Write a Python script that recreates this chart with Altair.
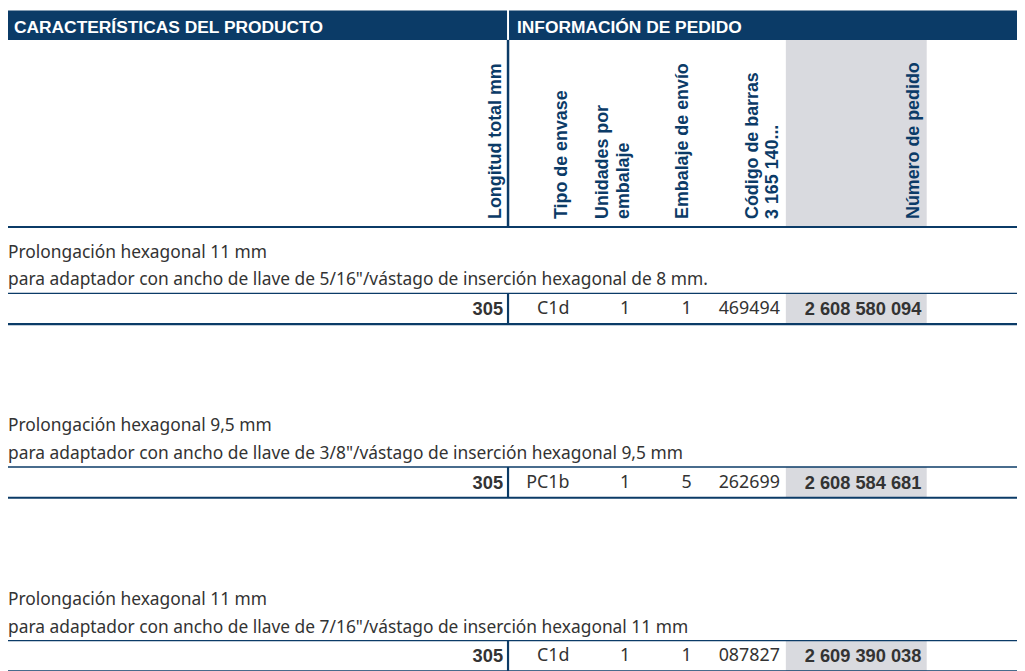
import altair as alt
import pandas as pd

# ---------------- data ----------------
GROUP_HEADERS = ["CARACTERÍSTICAS DEL PRODUCTO", "INFORMACIÓN DE PEDIDO"]
COLUMN_KEYS = ["longitud", "tipo", "unidades", "embalaje", "codigo", "pedido"]
COLUMN_HEADERS = [
    ["Longitud total mm"],
    ["Tipo de envase"],
    ["Unidades por", "embalaje"],
    ["Embalaje de envío"],
    ["Código de barras", "3 165 140..."],
    ["Número de pedido"],
]
SECTION_TITLES = [
    "Prolongación hexagonal 11 mm",
    "Prolongación hexagonal 9,5 mm",
    "Prolongación hexagonal 11 mm",
]
SECTION_SUBTITLES = [
    'para adaptador con ancho de llave de 5/16"/vástago de inserción hexagonal de 8 mm.',
    'para adaptador con ancho de llave de 3/8"/vástago de inserción hexagonal 9,5 mm',
    'para adaptador con ancho de llave de 7/16"/vástago de inserción hexagonal 11 mm',
]
LONGITUD = ["305", "305", "305"]
TIPO = ["C1d", "PC1b", "C1d"]
UNIDADES = ["1", "1", "1"]
EMBALAJE = ["1", "5", "1"]
CODIGO = ["469494", "262699", "087827"]
PEDIDO = ["2 608 580 094", "2 608 584 681", "2 609 390 038"]

# ---------------- layout / style ----------------
NAVY = "#0b3b67"
GREY = "#d9dadf"
TEXT = "#333333"
BODY_FONT = "Noto Sans"
BOLD_FONT = "Liberation Sans"

PAGE_W, PAGE_H, MARGIN = 1025, 671, 8
CHART_H = PAGE_H - MARGIN
LEFT, RIGHT = 8, 1025
SPLIT_X = 512
GREY_L, GREY_R = 792, 934
BAR_TOP, BAR_BOTTOM = 8, 37.5
HEAD_BOTTOM = 226
SECTION_FIRST, SECTION_STEP = 293, 175
ROW_H = 31
HEAD_LINE_STEP = 20.5

HEADER_ANCHOR = {"longitud": 500, "tipo": 566, "unidades": 608, "embalaje": 688,
                 "codigo": 759, "pedido": 921}
VALUE_ANCHOR = {"longitud": (507, "right", True, 18.4), "tipo": (574, "right", False, 18),
                "unidades": (630, "center", False, 18), "embalaje": (692, "center", False, 18),
                "codigo": (786, "right", False, 18), "pedido": (811, "left", True, 18.4)}

xs = alt.Scale(domain=[MARGIN, PAGE_W], range=[0, PAGE_W - MARGIN], zero=False, nice=False)
ys = alt.Scale(domain=[MARGIN, MARGIN + CHART_H], range=[0, CHART_H], zero=False, nice=False)
X = lambda f: alt.X(f, type="quantitative", scale=xs, axis=None)
Y = lambda f: alt.Y(f, type="quantitative", scale=ys, axis=None)

section_y = [SECTION_FIRST + i * SECTION_STEP for i in range(len(SECTION_TITLES))]

# rectangles
rects = [
    dict(x=LEFT, x2=SPLIT_X - 1, y=BAR_TOP, y2=BAR_BOTTOM, c=NAVY),
    dict(x=SPLIT_X + 1, x2=RIGHT, y=BAR_TOP, y2=BAR_BOTTOM, c=NAVY),
    dict(x=GREY_L, x2=GREY_R, y=BAR_BOTTOM, y2=HEAD_BOTTOM, c=GREY),
]
for sy in section_y:
    rects.append(dict(x=GREY_L, x2=GREY_R, y=sy, y2=sy + ROW_H, c=GREY))
rects = pd.DataFrame(rects)

# rules
rules = [
    dict(x=LEFT, x2=RIGHT, y=HEAD_BOTTOM, y2=HEAD_BOTTOM, w=2),
    dict(x=SPLIT_X, x2=SPLIT_X, y=BAR_BOTTOM, y2=HEAD_BOTTOM, w=2.5),
]
for sy in section_y:
    rules.append(dict(x=LEFT, x2=RIGHT, y=sy, y2=sy, w=1.3))
    rules.append(dict(x=LEFT, x2=RIGHT, y=sy + ROW_H, y2=sy + ROW_H, w=2.2))
    rules.append(dict(x=SPLIT_X, x2=SPLIT_X, y=sy, y2=sy + ROW_H, w=2.2))
rules = pd.DataFrame(rules)

rect_layer = alt.Chart(rects).mark_rect().encode(
    x=X("x"), x2="x2", y=Y("y"), y2="y2", color=alt.Color("c:N", scale=None)
)
rule_layer = alt.Chart(rules).mark_rule(color=NAVY).encode(
    x=X("x"), x2="x2", y=Y("y"), y2="y2", strokeWidth=alt.StrokeWidth("w:Q", scale=None)
)

group_df = pd.DataFrame({"t": GROUP_HEADERS, "x": [14, 521], "y": [30.5, 30.5]})
group_layer = alt.Chart(group_df).mark_text(
    align="left", baseline="alphabetic", font=BOLD_FONT, fontSize=17.5, fontWeight="bold", color="white"
).encode(x=X("x"), y=Y("y"), text="t:N")

head_rows = []
for key, lines in zip(COLUMN_KEYS, COLUMN_HEADERS):
    for j, line in enumerate(lines):
        head_rows.append(dict(t=line, x=HEADER_ANCHOR[key] + j * HEAD_LINE_STEP, y=218))
colhead_layer = alt.Chart(pd.DataFrame(head_rows)).mark_text(
    align="left", baseline="middle", angle=270, font=BOLD_FONT, fontSize=18,
    fontWeight="bold", color=NAVY
).encode(x=X("x"), y=Y("y"), text="t:N")

sec_df = pd.DataFrame({"t": SECTION_TITLES + SECTION_SUBTITLES,
                       "x": [LEFT] * (2 * len(section_y)),
                       "y": [s - 41 for s in section_y] + [s - 13 for s in section_y]})
sec_layer = alt.Chart(sec_df).mark_text(
    align="left", baseline="middle", font=BODY_FONT, fontSize=17.5, color=TEXT
).encode(x=X("x"), y=Y("y"), text="t:N")

columns = {"longitud": LONGITUD, "tipo": TIPO, "unidades": UNIDADES,
           "embalaje": EMBALAJE, "codigo": CODIGO, "pedido": PEDIDO}
value_layers = []
for key in COLUMN_KEYS:
    xpos, align, bold, size = VALUE_ANCHOR[key]
    df = pd.DataFrame({"t": columns[key], "x": [xpos] * len(section_y),
                       "y": [s + 16 for s in section_y]})
    value_layers.append(
        alt.Chart(df).mark_text(
            align=align, baseline="middle",
            font=BOLD_FONT if bold else BODY_FONT, fontSize=size,
            fontWeight="bold" if bold else "normal", color=TEXT
        ).encode(x=X("x"), y=Y("y"), text="t:N")
    )

chart = alt.layer(
    rect_layer, rule_layer, group_layer, colhead_layer, sec_layer, *value_layers
).properties(
    width=PAGE_W - MARGIN, height=CHART_H,
    autosize=alt.AutoSizeParams(type="none"), padding=0
).configure_view(stroke=None)

chart.save("out.html", embed_options={"renderer": "svg", "actions": False})
